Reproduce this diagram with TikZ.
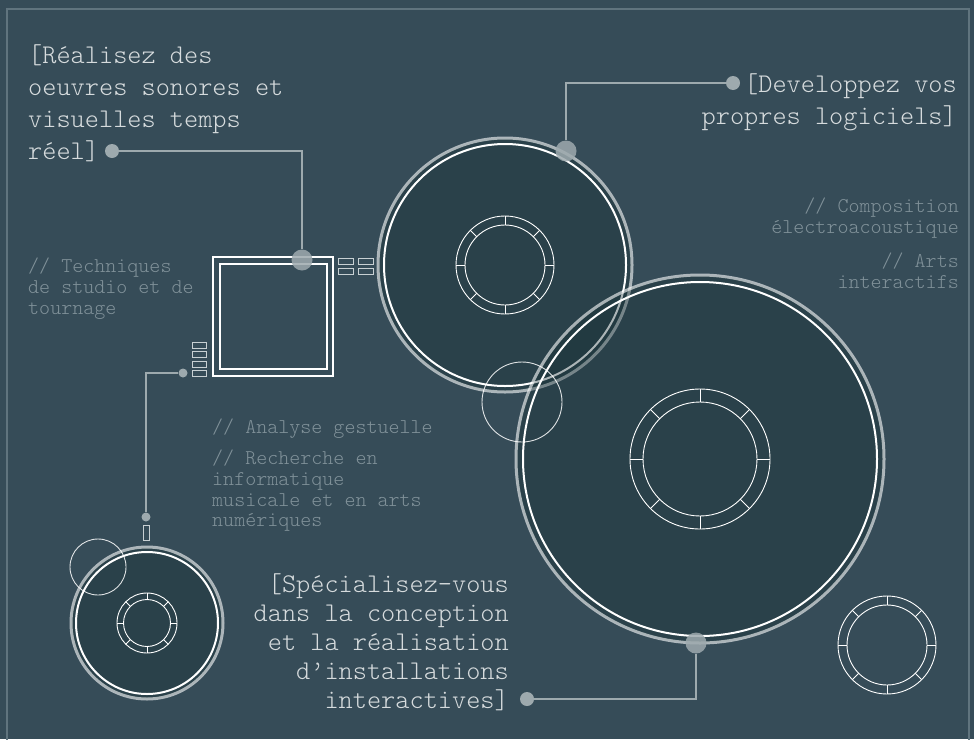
\documentclass[tikz,border=0pt]{standalone}
\usepackage{fontspec}
\setmonofont{lmmonolt10-regular.otf}
\usepackage{tikz}
\usepackage{xcolor}
\usetikzlibrary{positioning, calc}

\definecolor{bgblue}{RGB}{54,76,88}
\definecolor{framegrey}{RGB}{96,116,126}
\definecolor{discfill}{RGB}{20,45,50}
\definecolor{wiregrey}{RGB}{158,170,174}
\definecolor{slotgrey}{RGB}{200,208,211}
\definecolor{headtext}{RGB}{214,219,221}
\definecolor{notetext}{RGB}{128,145,153}

\tikzset{
  disc/.style={fill=discfill, fill opacity=0.35},
  outerring/.style={draw=white, draw opacity=0.6, line width=3pt},
  innerline/.style={draw=white, line width=2pt},
  thinline/.style={draw=white, line width=0.9pt},
  slot/.style={draw=slotgrey, line width=0.9pt},
  wire/.style={draw=wiregrey, line width=1.5pt},
  bigdot/.style={circle, fill=wiregrey, fill opacity=0.85, inner sep=0pt, minimum size=21pt},
  smalldot/.style={circle, fill=wiregrey, inner sep=0pt, minimum size=14pt},
  tinydot/.style={circle, fill=wiregrey, inner sep=0pt, minimum size=9pt},
  headtxt/.style={font=\ttfamily\fontsize{27}{32}\selectfont, text=headtext, inner sep=0pt},
  notetxt/.style={font=\ttfamily\fontsize{21}{20.7}\selectfont, text=notetext, inner sep=0pt}
}

\begin{document}
\begin{tikzpicture}[x=1pt, y=-1pt]
% background and frame
\fill[bgblue] (0,0) rectangle (974,739);
\useasboundingbox (0,0) rectangle (974,739);
\draw[framegrey, line width=1.5pt] (7,9) rectangle (969,745);

% discs
\foreach \cx/\cy/\ro/\rw in {505/265/127/121, 700/459/184/177, 147/623/76/71} {
    \fill[disc] (\cx,\cy) circle (\ro);
    \draw[outerring] (\cx,\cy) circle (\ro);
    \draw[innerline] (\cx,\cy) circle (\rw);
}

% hubs with ticks
\foreach \cx/\cy/\ro/\ri in {505/265/49/40, 700/459/70/57, 147/623/30/23.5, 887/645/49/40} {
    \draw[thinline] (\cx,\cy) circle (\ro) (\cx,\cy) circle (\ri);
    \foreach \a in {0,45,...,315}
        \draw[thinline] ($(\cx,\cy)+(\a:\ri)$) -- ($(\cx,\cy)+(\a:\ro)$);
}

% loose outlines
\draw[thinline, draw opacity=0.85] (522,402) circle (40);
\draw[thinline, draw opacity=0.85] (98,567) circle (28);

% screen
\draw[white, line width=2.5pt] (213,257) rectangle (333,376);
\draw[white, line width=1.2pt] (220,264) rectangle (327,369);
\foreach \sx in {338,358}
    \foreach \sy in {258,268}
        \draw[slot] (\sx,\sy) rectangle ++(15,6);
\foreach \sy in {342,351.6,361.2,370.8}
    \draw[slot] (192,\sy) rectangle ++(14,6);
\draw[slot] (143,525) rectangle (149,540);

% texts
\node[headtxt, align=left, anchor=north west] (realisez) at (28,44)
    {[Réalisez des\\oeuvres sonores et\\visuelles temps\\réel]};
\node[headtxt, align=right, anchor=north east] (developpez) at (957,73)
    {[Developpez vos\\propres logiciels]};
\node[headtxt, font=\ttfamily\fontsize{27}{29}\selectfont, align=right, anchor=north east] (specialisez) at (509,573)
    {[Spécialisez-vous\\dans la conception\\et la réalisation\\d’installations\\interactives]};
\node[notetxt, align=left, anchor=north west] (techniques) at (28,258)
    {// Techniques\\de studio et de\\tournage};
\node[notetxt, align=right, anchor=north east] (composition) at (959,198)
    {// Composition\\électroacoustique};
\node[notetxt, align=right, anchor=north east] (arts) at (959,253)
    {// Arts\\interactifs};
\node[notetxt, anchor=north west] (analyse) at (212,419) {// Analyse gestuelle};
\node[notetxt, align=left, anchor=north west] (recherche) at (212,450)
    {// Recherche en\\informatique\\musicale et en arts\\numériques};

% dots
\node[smalldot] (dotreel) at (112,151) {};
\node[bigdot] (dotscreen) at (302,260) {};
\node[bigdot] (dotdiscA) at (566,151) {};
\node[smalldot] (dotdev) at (733,83) {};
\node[tinydot] (dotleft) at (183,373) {};
\node[tinydot] (dotdown) at (146,517) {};
\node[bigdot] (dotdiscB) at (696,643) {};
\node[smalldot] (dotspec) at (527,699) {};

% wires
\draw[wire] (dotreel) -| (dotscreen);
\draw[wire] (dotdiscA) |- (dotdev);
\draw[wire] (dotleft) -| (dotdown);
\draw[wire] (dotdiscB) |- (dotspec);
\end{tikzpicture}
\end{document}
